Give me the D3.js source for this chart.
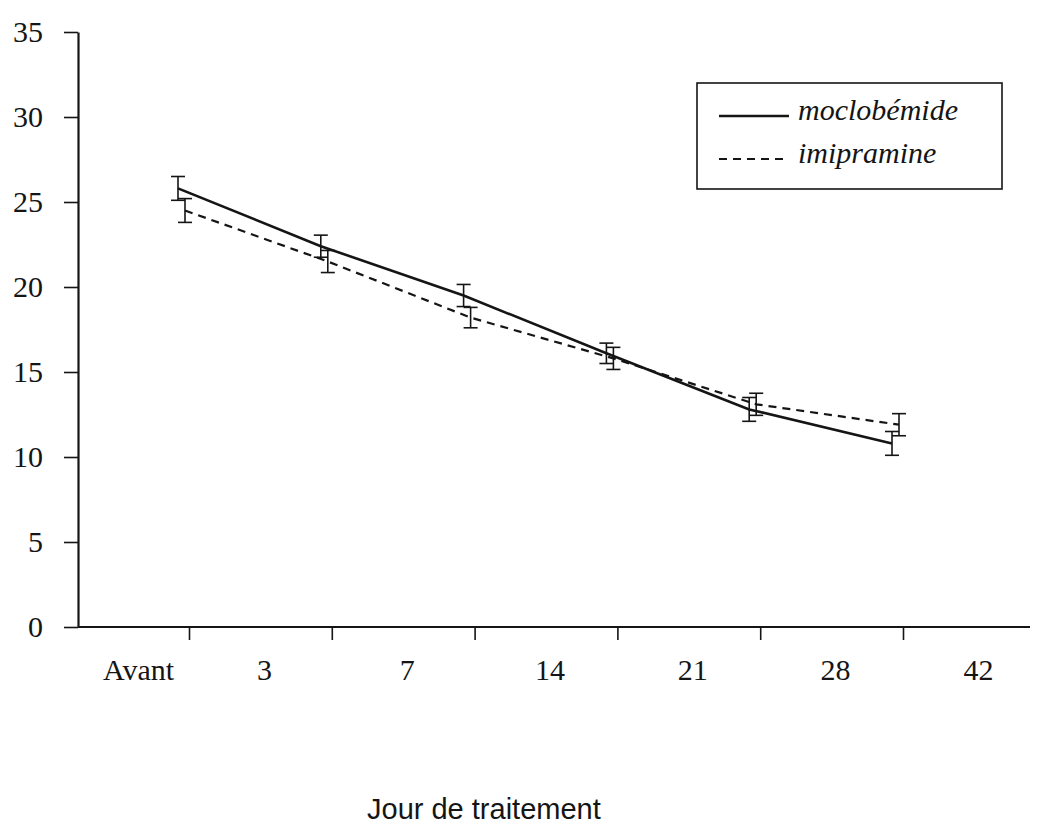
<!DOCTYPE html>
<html>
<head>
<meta charset="utf-8">
<script src="https://cdn.jsdelivr.net/npm/d3@7"></script>
<style>
  html, body { margin: 0; padding: 0; background: #fff; }
  svg { display: block; }
</style>
</head>
<body>
<svg id="chart" width="1041" height="828"></svg>
<script>
// ---- data ----
const categories = ["Avant", "3", "7", "14", "21", "28", "42"];
const yTickValues = [0, 5, 10, 15, 20, 25, 30, 35];
const seriesNames = ["moclobémide", "imipramine"];
const moclobemide = [25.8, 22.4, 19.5, 16.1, 12.8, 10.8];
const moclobemideErr = [0.7, 0.65, 0.65, 0.6, 0.7, 0.7];
const imipramine = [24.5, 21.5, 18.2, 15.8, 13.1, 11.9];
const imipramineErr = [0.7, 0.65, 0.6, 0.65, 0.65, 0.65];
const xTitle = "Jour de traitement";

// ---- layout ----
const svg = d3.select("#chart");
const ink = "#151515";
const axisX0 = 78, axisX1 = 1030, axisY = 627;
const y = d3.scaleLinear().domain([0, 35]).range([axisY, 32]);
const x = d3.scaleLinear().domain([1, 6]).range([189, 903]);
const serif = "'Liberation Serif', 'Times New Roman', serif";

// Y axis
const yAxis = svg.append("g")
  .attr("transform", `translate(${axisX0},0)`)
  .call(d3.axisLeft(y).tickValues(yTickValues).tickSize(14).tickSizeOuter(0).tickPadding(21).tickFormat(d3.format("d")));
yAxis.select(".domain").attr("stroke", ink).attr("stroke-width", 2.2);
yAxis.selectAll(".tick line").attr("stroke", ink).attr("stroke-width", 1.6);
yAxis.selectAll(".tick text").attr("fill", ink)
  .style("font-family", serif).style("font-size", "30px");

// X axis (ticks at band boundaries)
const xAxis = svg.append("g")
  .attr("transform", `translate(0,${axisY})`)
  .call(d3.axisBottom(x).tickValues(d3.range(1, categories.length)).tickSize(13).tickSizeOuter(0).tickFormat(""));
xAxis.select(".domain").remove();
xAxis.selectAll(".tick line").attr("stroke", ink).attr("stroke-width", 1.6);
svg.append("line")
  .attr("x1", axisX0).attr("x2", axisX1).attr("y1", axisY).attr("y2", axisY)
  .attr("stroke", ink).attr("stroke-width", 2.2);

// category labels centred between ticks
const labelX = (i) => i === 0 ? (axisX0 + x(1)) / 2 + 5 : x(i + 0.5) + 4;
svg.append("g").selectAll("text").data(categories).join("text")
  .attr("x", (d, i) => labelX(i))
  .attr("y", 680)
  .attr("text-anchor", "middle")
  .attr("fill", ink)
  .style("font-family", serif).style("font-size", "30px")
  .text(d => d);

// series
const series = [
  { name: seriesNames[0], values: moclobemide, err: moclobemideErr, dodge: -11, dash: null, width: 2.6 },
  { name: seriesNames[1], values: imipramine, err: imipramineErr, dodge: -4, dash: "8,6", width: 2.2 }
];
const line = d3.line().x(d => d.x).y(d => d.y);
series.forEach(s => {
  const pts = s.values.map((v, i) => ({ x: x(i + 1) + s.dodge, y: y(v), v, e: s.err[i] }));
  svg.append("path")
    .attr("d", line(pts))
    .attr("fill", "none")
    .attr("stroke", ink)
    .attr("stroke-width", s.width)
    .attr("stroke-dasharray", s.dash);
  const eb = svg.append("g").selectAll("g").data(pts).join("g").attr("stroke", ink).attr("stroke-width", 1.6);
  eb.append("line").attr("x1", d => d.x).attr("x2", d => d.x)
    .attr("y1", d => y(d.v + d.e)).attr("y2", d => y(d.v - d.e));
  eb.append("line").attr("x1", d => d.x - 7).attr("x2", d => d.x + 7)
    .attr("y1", d => y(d.v + d.e)).attr("y2", d => y(d.v + d.e));
  eb.append("line").attr("x1", d => d.x - 7).attr("x2", d => d.x + 7)
    .attr("y1", d => y(d.v - d.e)).attr("y2", d => y(d.v - d.e));
});

// legend
const lg = svg.append("g");
lg.append("rect").attr("x", 697).attr("y", 83).attr("width", 305).attr("height", 106)
  .attr("fill", "none").attr("stroke", ink).attr("stroke-width", 1.6);
series.forEach((s, i) => {
  const ly = 116 + i * 43;
  lg.append("line").attr("x1", 719).attr("x2", 789).attr("y1", ly).attr("y2", ly)
    .attr("stroke", ink).attr("stroke-width", s.width).attr("stroke-dasharray", s.dash);
  lg.append("text").attr("x", 798).attr("y", ly + 4)
    .attr("fill", ink)
    .style("font-family", serif).style("font-style", "italic").style("font-size", "30px")
    .text(s.name);
});

// x title
svg.append("text")
  .attr("x", 367).attr("y", 819)
  .attr("fill", ink)
  .style("font-family", "'Liberation Sans', Arial, sans-serif").style("font-size", "29px")
  .text(xTitle);
</script>
</body>
</html>
